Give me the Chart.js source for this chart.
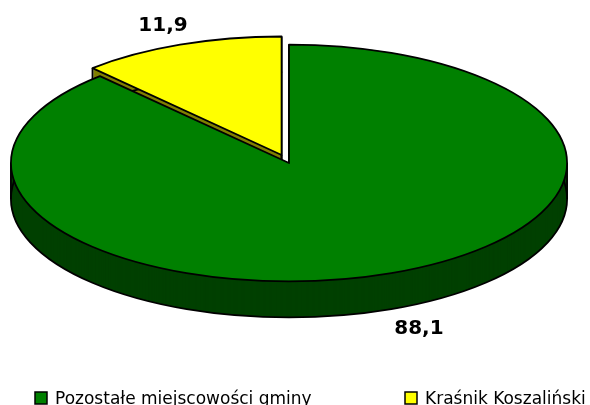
<!DOCTYPE html>
<html>
<head>
<meta charset="utf-8">
<script src="https://cdn.jsdelivr.net/npm/chart.js@4.4.1/dist/chart.umd.min.js"></script>
<style>
  html, body { margin: 0; padding: 0; background: #fff; }
</style>
</head>
<body>
<canvas id="pieChart" width="590" height="405"></canvas>
<script>
// data
const categories = ["Pozostałe miejscowości gminy", "Kraśnik Koszaliński"];
const shares = [88.1, 11.9];
const valueLabels = ["88,1", "11,9"];
const topColors = ["#008000", "#ffff00"];
const sideColors = ["#004000", "#808000"];

// 3d look
const STRETCH = 1.706; // horizontal radius / chart.js radius
const TILT = 0.426;    // squash of the disc
const DEPTH = 36;
const EXPLODED = 1;    // index of the pulled out slice
const EXPLODE_DIST = 0.073;
const LABEL_R = 1.26;
const legendBoxX = [35, 405];
const LEGEND_Y = 398;

function wedge(ctx, cx, cy, rx, ry, s, e) {
  ctx.beginPath();
  ctx.moveTo(cx, cy);
  ctx.ellipse(cx, cy, rx, ry, 0, s, e);
  ctx.closePath();
}

const pie3d = {
  id: "pie3d",
  beforeDatasetsDraw(chart) {
    const ctx = chart.ctx;
    const arcs = chart.getDatasetMeta(0).data;
    if (!arcs.length) return false;
    const rx = arcs[0].outerRadius * STRETCH;
    const ry = rx * TILT;
    const geo = arcs.map((a, i) => {
      const mid = (a.startAngle + a.endAngle) / 2;
      const d = i === EXPLODED ? EXPLODE_DIST : 0;
      return {a, i, mid, cx: a.x + Math.cos(mid) * d * rx, cy: a.y + Math.sin(mid) * d * ry};
    });
    // back to front
    const order = geo.slice().sort((p, q) => Math.sin(p.mid) - Math.sin(q.mid));

    ctx.save();
    ctx.lineWidth = 1.8;
    ctx.strokeStyle = "#000";
    ctx.lineJoin = "round";
    order.forEach(g => {
      const s = g.a.startAngle, e = g.a.endAngle;
      // side
      ctx.fillStyle = sideColors[g.i];
      for (let k = DEPTH; k >= 1; k--) {
        wedge(ctx, g.cx, g.cy + k, rx, ry, s, e);
        ctx.fill();
      }
      wedge(ctx, g.cx, g.cy + DEPTH, rx, ry, s, e);
      ctx.stroke();
      // vertical edges
      const angs = [s, e];
      [0, Math.PI, 2 * Math.PI].forEach(t => { if (t > s && t < e) angs.push(t); });
      ctx.beginPath();
      angs.forEach(t => {
        const x = g.cx + Math.cos(t) * rx, y = g.cy + Math.sin(t) * ry;
        ctx.moveTo(x, y);
        ctx.lineTo(x, y + DEPTH);
      });
      ctx.moveTo(g.cx, g.cy);
      ctx.lineTo(g.cx, g.cy + DEPTH);
      ctx.stroke();
      // top
      wedge(ctx, g.cx, g.cy, rx, ry, s, e);
      ctx.fillStyle = topColors[g.i];
      ctx.fill();
      ctx.stroke();
    });

    // value labels
    ctx.fillStyle = "#000";
    ctx.font = "bold 20px 'DejaVu Sans'";
    ctx.textAlign = "center";
    ctx.textBaseline = "middle";
    geo.forEach(g => {
      const x = g.a.x + Math.cos(g.mid) * LABEL_R * rx;
      const y = g.a.y + Math.sin(g.mid) * LABEL_R * ry + Math.max(0, Math.sin(g.mid)) * DEPTH * 0.75;
      ctx.fillText(valueLabels[g.i], x + 2, y + 2);
    });
    ctx.restore();
    return false;
  },
  afterDraw(chart) {
    const ctx = chart.ctx;
    ctx.save();
    ctx.font = "17px 'DejaVu Sans'";
    ctx.textBaseline = "alphabetic";
    ctx.textAlign = "left";
    chart.data.labels.forEach((lab, i) => {
      const x = legendBoxX[i];
      ctx.fillStyle = topColors[i];
      ctx.fillRect(x, LEGEND_Y - 6, 12, 12);
      ctx.lineWidth = 1.5;
      ctx.strokeStyle = "#000";
      ctx.strokeRect(x, LEGEND_Y - 6, 12, 12);
      ctx.fillStyle = "#000";
      ctx.fillText(lab, x + 20, LEGEND_Y + 6);
    });
    ctx.restore();
  }
};

const pieData = {
  labels: categories,
  datasets: [
    {
      data: shares,
      backgroundColor: topColors,
      borderWidth: 0,
    },
  ],
};

const pieConfig = {
  type: "pie",
  data: pieData,
  options: {
    responsive: false,
    animation: false,
    layout: { padding: { left: 0, right: 12, top: 0, bottom: 79 } },
    plugins: {
      legend: { display: false },
      tooltip: { enabled: false },
    },
  },
  plugins: [pie3d],
};

const cntx = document.getElementById("pieChart").getContext("2d");
const myPieChart = new Chart(cntx, pieConfig);
</script>
</body>
</html>
